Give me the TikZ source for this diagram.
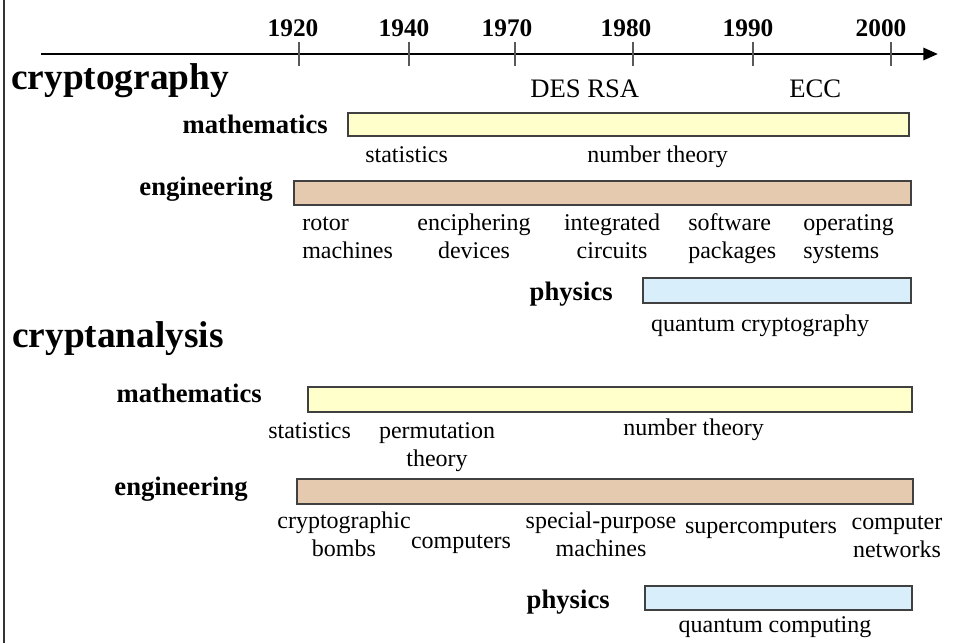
\documentclass[tikz,border=0pt]{standalone}
\usepackage{fontspec}
\setmainfont{Liberation Serif}
\usetikzlibrary{arrows.meta}
\definecolor{mathfill}{HTML}{FFFFCC}
\definecolor{engfill}{HTML}{E6CAB0}
\definecolor{physfill}{HTML}{D9EEFB}
\definecolor{barline}{HTML}{404040}
\tikzset{
  year/.style={font=\fontsize{19}{21}\selectfont\bfseries, inner sep=0pt, anchor=base},
  head/.style={font=\fontsize{28}{32}\selectfont\bfseries, inner sep=0pt, anchor=base west},
  field/.style={font=\fontsize{20}{22}\selectfont\bfseries, inner sep=0pt, anchor=base east},
  lbl/.style={font=\fontsize{18}{21}\selectfont, inner sep=0pt, anchor=base, align=center},
  lbll/.style={font=\fontsize{18}{21}\selectfont, inner sep=0pt, anchor=base west, align=left},
  alg/.style={font=\fontsize{20}{22}\selectfont, inner sep=0pt, anchor=base west},
  tickmark/.style={draw=black!65, line width=1.1pt},
  bar/.style={draw=barline, line width=1.1pt},
}
\begin{document}
\begin{tikzpicture}[x=0.75pt, y=-0.75pt]
\useasboundingbox (0,0) rectangle (956,643);
\fill[white] (0,0) rectangle (956,643);
% left border
\draw[black!80, line width=1.5pt] (4,0) -- (4,643);
% axis
\coordinate (axs) at (41,54);
\coordinate (axe) at (938,54);
\draw[line width=2.2pt, -{Triangle[length=11pt,width=9pt]}] (axs) -- (axe);
% ticks and years
\foreach \tx/\lx/\yr in {299/293/1920, 409/404/1940, 515/507/1970, 633/626/1980, 753/748/1990, 891/881/2000}{
  \draw[tickmark] (\tx,42) -- (\tx,66);
  \node[year] (y\yr) at (\lx,36) {\yr};
}
% ---------- cryptography ----------
\node[head] (crypto) at (11,89) {cryptography};
\node[alg] (des) at (530,97) {DES RSA};
\node[alg] (ecc) at (789,97) {ECC};
\node[field] (m1) at (328,133) {mathematics};
\draw[bar, fill=mathfill] (348,113) rectangle (909,136);
\node[lbll] (st1) at (365,162) {statistics};
\node[lbll] (nt1) at (587,162) {number theory};
\node[field] (e1) at (273,195) {engineering};
\draw[bar, fill=engfill] (294,181) rectangle (911,205);
\node[lbll] (rot) at (302,258) {rotor\\machines};
\node[lbl] (enc) at (474,258) {enciphering\\devices};
\node[lbl] (ic) at (612,258) {integrated\\circuits};
\node[lbll] (sw) at (688,258) {software\\packages};
\node[lbll] (os) at (803,258) {operating\\systems};
\node[field] (p1) at (613,300) {physics};
\draw[bar, fill=physfill] (643,278) rectangle (911,303);
\node[lbl] (qc1) at (760,331) {quantum cryptography};
% ---------- cryptanalysis ----------
\node[head] (cana) at (12,347) {cryptanalysis};
\node[field] (m2) at (262,402) {mathematics};
\draw[bar, fill=mathfill] (308,387) rectangle (912,412);
\node[lbll] (st2) at (268,438) {statistics};
\node[lbl] (perm) at (437,466) {permutation\\theory};
\node[lbll] (nt2) at (623,435) {number theory};
\node[field] (e2) at (248,495) {engineering};
\draw[bar, fill=engfill] (297,479) rectangle (913,504);
\node[lbl] (bomb) at (344,556) {cryptographic\\bombs};
\node[lbl] (comp) at (461,548) {computers};
\node[lbl] (spm) at (601,556) {special-purpose\\machines};
\node[lbl] (sup) at (761,533) {supercomputers};
\node[lbl] (net) at (897,557) {computer\\networks};
\node[field] (p2) at (610,608) {physics};
\draw[bar, fill=physfill] (645,586) rectangle (912,610);
\node[lbl] (qc2) at (775,632) {quantum computing};
\end{tikzpicture}
\end{document}
